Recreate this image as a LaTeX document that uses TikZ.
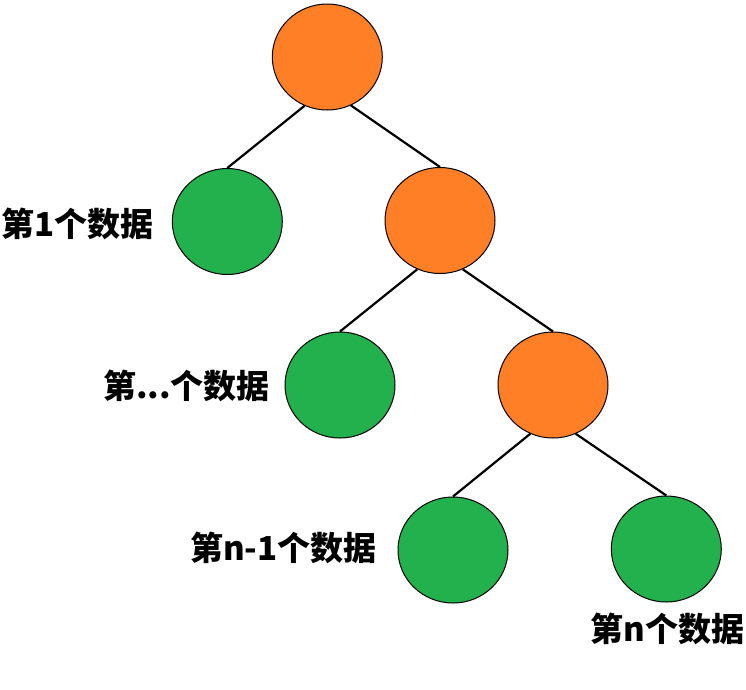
\documentclass[tikz,border=0pt]{standalone}
\usepackage{fontspec}
\newfontfamily\cjk{Noto Sans CJK SC}
\usetikzlibrary{shapes.geometric}
\definecolor{paintorange}{RGB}{255,127,39}
\definecolor{paintgreen}{RGB}{34,177,76}
\tikzset{
  ball/.style={ellipse, draw=black, line width=1pt, minimum width=110pt, minimum height=106pt, inner sep=0pt},
  inner/.style={ball, fill=paintorange},
  leaf/.style={ball, fill=paintgreen},
  lbl/.style={inner sep=0pt, font=\cjk\bfseries\fontsize{33pt}{36pt}\selectfont},
  link/.style={line width=2.2pt, black}
}
\begin{document}
\begin{tikzpicture}[x=1pt,y=-1pt]
\useasboundingbox (0,0) rectangle (746,689);
\node[inner] (r) at (327.3,57) {};
\node[leaf] (g1) at (227.3,221.5) {};
\node[inner] (o2) at (440,220.5) {};
\node[leaf] (g2) at (340,385) {};
\node[inner] (o3) at (553,385) {};
\node[leaf] (g3) at (453,550) {};
\node[leaf] (g4) at (666.3,549) {};
\draw[link] (r.-115) -- (g1.north);
\draw[link] (r.-64) -- (o2.north);
\draw[link] (o2.-115) -- (g2.north);
\draw[link] (o2.-65) -- (o3.north);
\draw[link] (o3.-115) -- (g3.north);
\draw[link] (o3.-65) -- (g4.north);
\node[lbl] (t1) at (77.5,224) {第1个数据};
\node[lbl] (t2) at (186.5,385.5) {第...个数据};
\node[lbl] (t3) at (283.5,548) {第n-1个数据};
\node[lbl] (t4) at (667.5,628.5) {第n个数据};
\end{tikzpicture}
\end{document}
